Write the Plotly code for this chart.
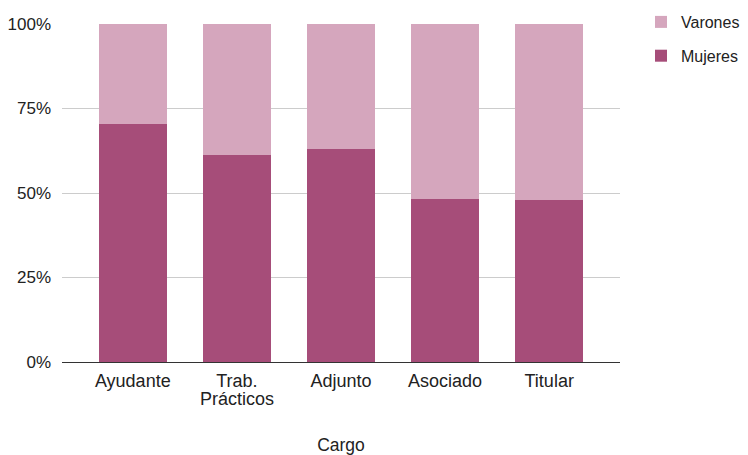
import plotly.graph_objects as go

categorias = ["Ayudante", "Trab. Prácticos", "Adjunto", "Asociado", "Titular"]
etiquetas = ["Ayudante", "Trab.", "Adjunto", "Asociado", "Titular"]
etiqueta_segunda_linea = "Prácticos"
mujeres = [70.3, 61.2, 63.0, 48.2, 47.8]
varones = [100 - m for m in mujeres]
y_ticks = [0, 25, 50, 75, 100]
y_labels = ["0%", "25%", "50%", "75%", "100%"]

FONT = "Arial, Liberation Sans, sans-serif"

fig = go.Figure()
fig.add_trace(go.Bar(x=categorias, y=mujeres, name="Mujeres", legendgroup="m",
                     legendrank=2,
                     marker=dict(color="#a64d79", line=dict(width=0))))
fig.add_trace(go.Bar(x=categorias, y=varones, name="Varones", legendgroup="v",
                     legendrank=1,
                     marker=dict(color="#d5a6bd", line=dict(width=0))))

fig.add_annotation(x=categorias[1], xref="x", y=0, yref="paper",
                   yshift=-37, text=etiqueta_segunda_linea, showarrow=False,
                   font=dict(size=18, color="#222222"), yanchor="middle")

fig.update_layout(
    barmode="stack",
    bargap=0.35,
    width=732, height=447,
    margin=dict(l=54, r=120, t=16, b=93, autoexpand=False),
    paper_bgcolor="white", plot_bgcolor="white",
    font=dict(family=FONT, size=18, color="#222222"),
    legend=dict(x=1 + (633 - 612) / 558, y=1 + 19 / 338,
                xanchor="left", yanchor="top", traceorder="grouped",
                font=dict(size=16, color="#222222"), itemwidth=30,
                tracegroupgap=10),
    xaxis=dict(type="category", range=[-0.68, 4.68], showgrid=False,
               showline=True, linecolor="#333333", linewidth=1,
               tickvals=categorias, ticktext=etiquetas,
               ticks="", automargin=False, ticklabelstandoff=2,
               tickfont=dict(size=18),
               title=dict(text="Cargo", standoff=53, font=dict(size=17.5))),
    yaxis=dict(range=[0, 100], tickvals=y_ticks, ticktext=y_labels,
               showgrid=True, gridcolor="#cccccc", gridwidth=1,
               zeroline=False, showline=False, ticks="", automargin=False,
               tickfont=dict(size=17), ticklabelstandoff=10),
)

fig.write_html("out.html")
